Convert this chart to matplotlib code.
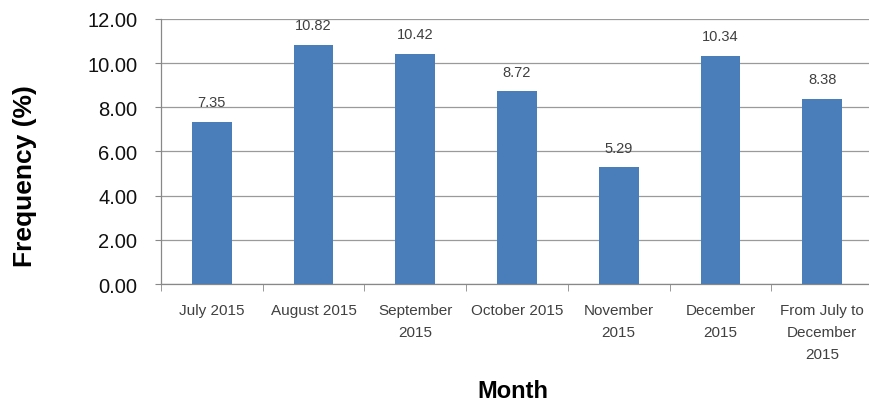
import matplotlib
matplotlib.use("Agg")
import matplotlib.pyplot as plt
import numpy as np

months = ["July 2015", "August 2015", "September\n2015", "October 2015",
          "November\n2015", "December\n2015", "From July to\nDecember\n2015"]
frequency = [7.35, 10.82, 10.42, 8.72, 5.29, 10.34, 8.38]
y_ticks = [0, 2, 4, 6, 8, 10, 12]

plt.rcParams["font.family"] = ["Liberation Sans", "DejaVu Sans"]

fig = plt.figure(figsize=(8.7, 4.06), dpi=100)
ax = fig.add_axes([161 / 870, 0.298, 712 / 870, 0.653])

x = np.arange(len(months))
bars = ax.bar(x, frequency, width=0.39, color="#4a7ebb", zorder=3)

for rect, val in zip(bars, frequency):
    ax.annotate(f"{val:.2f}", (rect.get_x() + rect.get_width() / 2, val),
                xytext=(0, 9), textcoords="offset points", ha="center",
                va="bottom", fontsize=10.5, color="#404040")

ax.set_xlim(-0.5, len(months) - 0.5)
ax.set_ylim(0, 12)
ax.set_yticks(y_ticks)
ax.set_yticklabels([f"{v:.2f}" for v in y_ticks], fontsize=14.5, color="#111111")
ax.yaxis.grid(True, color="#9a9a9a", linewidth=0.9, zorder=0)
ax.set_axisbelow(True)

ax.set_xticks(x)
ax.set_xticklabels(months, fontsize=11, color="#404040", linespacing=1.72)
ax.set_xticks(np.arange(len(months) + 1) - 0.5, minor=True)
ax.tick_params(axis="x", which="major", length=0, pad=14)
ax.tick_params(axis="x", which="minor", length=5, color="#888888")
ax.tick_params(axis="y", length=4, color="#888888", pad=13)

for side in ("top", "right"):
    ax.spines[side].set_visible(False)
for side in ("left", "bottom"):
    ax.spines[side].set_color("#888888")
    ax.spines[side].set_linewidth(0.9)

fig.text(25 / 870, 1 - 176 / 406, "Frequency (%)", rotation=90, ha="center",
         va="center", fontsize=19, fontweight="bold")
fig.text(513 / 870, 1 - 392 / 406, "Month", ha="center", va="center",
         fontsize=17, fontweight="bold")

fig.savefig("out.png", dpi=100)
